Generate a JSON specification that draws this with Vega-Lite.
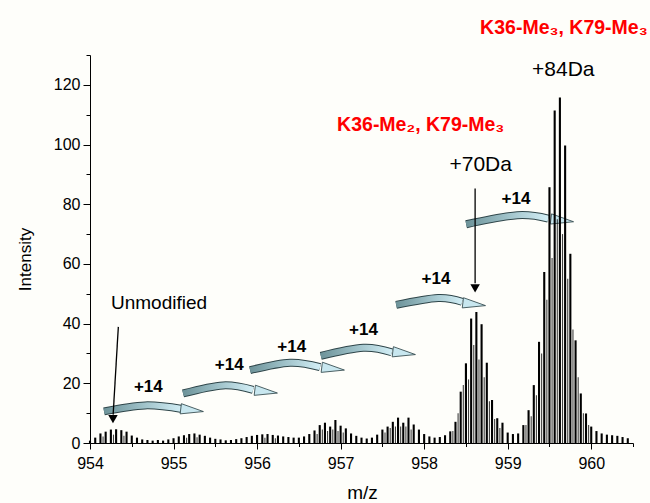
{
  "$schema": "https://vega.github.io/schema/vega-lite/v6.json",
  "width": 543,
  "height": 388,
  "autosize": "none",
  "padding": {"left": 90, "top": 55, "right": 17, "bottom": 60},
  "background": "#fefefa",
  "config": {"view": {"stroke": null}, "font": "Liberation Sans"},
  "datasets": {
    "peaks": [
      {"mz": 954.0, "i": 0.8, "s": "main"},
      {"mz": 954.0625, "i": 1.8, "s": "main"},
      {"mz": 954.125, "i": 3.2, "s": "main"},
      {"mz": 954.1875, "i": 3.8, "s": "main"},
      {"mz": 954.25, "i": 4.5, "s": "main"},
      {"mz": 954.3125, "i": 4.6, "s": "main"},
      {"mz": 954.375, "i": 4.3, "s": "main"},
      {"mz": 954.4375, "i": 3.8, "s": "main"},
      {"mz": 954.5, "i": 2.5, "s": "main"},
      {"mz": 954.5625, "i": 1.8, "s": "main"},
      {"mz": 954.625, "i": 1.2, "s": "main"},
      {"mz": 954.6875, "i": 1.0, "s": "main"},
      {"mz": 954.75, "i": 0.8, "s": "main"},
      {"mz": 954.8125, "i": 1.0, "s": "main"},
      {"mz": 954.875, "i": 0.8, "s": "main"},
      {"mz": 954.9375, "i": 1.2, "s": "main"},
      {"mz": 955.0, "i": 1.6, "s": "main"},
      {"mz": 955.0625, "i": 2.2, "s": "main"},
      {"mz": 955.125, "i": 2.6, "s": "main"},
      {"mz": 955.1875, "i": 3.0, "s": "main"},
      {"mz": 955.25, "i": 3.2, "s": "main"},
      {"mz": 955.3125, "i": 2.8, "s": "main"},
      {"mz": 955.375, "i": 2.4, "s": "main"},
      {"mz": 955.4375, "i": 1.8, "s": "main"},
      {"mz": 955.5, "i": 1.4, "s": "main"},
      {"mz": 955.5625, "i": 1.2, "s": "main"},
      {"mz": 955.625, "i": 0.9, "s": "main"},
      {"mz": 955.6875, "i": 1.0, "s": "main"},
      {"mz": 955.75, "i": 1.3, "s": "main"},
      {"mz": 955.8125, "i": 1.6, "s": "main"},
      {"mz": 955.875, "i": 2.0, "s": "main"},
      {"mz": 955.9375, "i": 2.4, "s": "main"},
      {"mz": 956.0, "i": 2.7, "s": "main"},
      {"mz": 956.0625, "i": 2.9, "s": "main"},
      {"mz": 956.125, "i": 3.0, "s": "main"},
      {"mz": 956.1875, "i": 2.7, "s": "main"},
      {"mz": 956.25, "i": 2.5, "s": "main"},
      {"mz": 956.3125, "i": 2.2, "s": "main"},
      {"mz": 956.375, "i": 2.0, "s": "main"},
      {"mz": 956.4375, "i": 1.8, "s": "main"},
      {"mz": 956.5, "i": 1.8, "s": "main"},
      {"mz": 956.5625, "i": 2.2, "s": "main"},
      {"mz": 956.625, "i": 3.0, "s": "main"},
      {"mz": 956.6875, "i": 4.2, "s": "main"},
      {"mz": 956.75, "i": 6.0, "s": "main"},
      {"mz": 956.8125, "i": 6.8, "s": "main"},
      {"mz": 956.875, "i": 5.5, "s": "main"},
      {"mz": 956.9375, "i": 7.7, "s": "main"},
      {"mz": 957.0, "i": 5.8, "s": "main"},
      {"mz": 957.0625, "i": 4.9, "s": "main"},
      {"mz": 957.125, "i": 3.2, "s": "main"},
      {"mz": 957.1875, "i": 2.4, "s": "main"},
      {"mz": 957.25, "i": 1.8, "s": "main"},
      {"mz": 957.3125, "i": 1.5, "s": "main"},
      {"mz": 957.375, "i": 1.8, "s": "main"},
      {"mz": 957.4375, "i": 2.8, "s": "main"},
      {"mz": 957.5, "i": 4.5, "s": "main"},
      {"mz": 957.5625, "i": 5.5, "s": "main"},
      {"mz": 957.625, "i": 7.1, "s": "main"},
      {"mz": 957.6875, "i": 8.5, "s": "main"},
      {"mz": 957.75, "i": 6.8, "s": "main"},
      {"mz": 957.8125, "i": 8.5, "s": "main"},
      {"mz": 957.875, "i": 6.2, "s": "main"},
      {"mz": 957.9375, "i": 4.5, "s": "main"},
      {"mz": 958.0, "i": 3.0, "s": "main"},
      {"mz": 958.0625, "i": 2.2, "s": "main"},
      {"mz": 958.125, "i": 1.8, "s": "main"},
      {"mz": 958.1875, "i": 2.0, "s": "main"},
      {"mz": 958.25, "i": 2.6, "s": "main"},
      {"mz": 958.3125, "i": 3.9, "s": "main"},
      {"mz": 958.375, "i": 7.1, "s": "main"},
      {"mz": 958.4375, "i": 17.2, "s": "main"},
      {"mz": 958.5, "i": 26.7, "s": "main"},
      {"mz": 958.5625, "i": 41.7, "s": "main"},
      {"mz": 958.625, "i": 43.9, "s": "main"},
      {"mz": 958.6875, "i": 39.8, "s": "main"},
      {"mz": 958.75, "i": 26.9, "s": "main"},
      {"mz": 958.8125, "i": 14.4, "s": "main"},
      {"mz": 958.875, "i": 8.3, "s": "main"},
      {"mz": 958.9375, "i": 6.8, "s": "main"},
      {"mz": 959.0, "i": 3.5, "s": "main"},
      {"mz": 959.0625, "i": 3.0, "s": "main"},
      {"mz": 959.125, "i": 3.2, "s": "main"},
      {"mz": 959.1875, "i": 6.0, "s": "main"},
      {"mz": 959.25, "i": 11.0, "s": "main"},
      {"mz": 959.3125, "i": 19.4, "s": "main"},
      {"mz": 959.375, "i": 33.9, "s": "main"},
      {"mz": 959.4375, "i": 57.3, "s": "main"},
      {"mz": 959.5, "i": 85.7, "s": "main"},
      {"mz": 959.5625, "i": 111.4, "s": "main"},
      {"mz": 959.625, "i": 115.8, "s": "main"},
      {"mz": 959.6875, "i": 99.7, "s": "main"},
      {"mz": 959.75, "i": 63.4, "s": "main"},
      {"mz": 959.8125, "i": 34.4, "s": "main"},
      {"mz": 959.875, "i": 16.6, "s": "main"},
      {"mz": 959.9375, "i": 9.9, "s": "main"},
      {"mz": 960.0, "i": 5.5, "s": "main"},
      {"mz": 960.0625, "i": 4.0, "s": "main"},
      {"mz": 960.125, "i": 3.2, "s": "main"},
      {"mz": 960.1875, "i": 2.8, "s": "main"},
      {"mz": 960.25, "i": 2.6, "s": "main"},
      {"mz": 960.3125, "i": 2.4, "s": "main"},
      {"mz": 960.375, "i": 2.0, "s": "main"},
      {"mz": 960.4375, "i": 1.6, "s": "main"},
      {"mz": 954.15625, "i": 2.2, "s": "minor"},
      {"mz": 954.28125, "i": 2.8, "s": "minor"},
      {"mz": 954.40625, "i": 2.4, "s": "minor"},
      {"mz": 955.15625, "i": 1.8, "s": "minor"},
      {"mz": 955.28125, "i": 1.9, "s": "minor"},
      {"mz": 956.09375, "i": 1.8, "s": "minor"},
      {"mz": 956.21875, "i": 1.6, "s": "minor"},
      {"mz": 956.71875, "i": 3.0, "s": "minor"},
      {"mz": 956.78125, "i": 4.5, "s": "minor"},
      {"mz": 956.84375, "i": 4.0, "s": "minor"},
      {"mz": 956.90625, "i": 4.5, "s": "minor"},
      {"mz": 956.96875, "i": 4.0, "s": "minor"},
      {"mz": 957.03125, "i": 3.5, "s": "minor"},
      {"mz": 957.53125, "i": 3.5, "s": "minor"},
      {"mz": 957.59375, "i": 5.0, "s": "minor"},
      {"mz": 957.65625, "i": 5.5, "s": "minor"},
      {"mz": 957.71875, "i": 5.5, "s": "minor"},
      {"mz": 957.78125, "i": 5.5, "s": "minor"},
      {"mz": 957.84375, "i": 4.5, "s": "minor"},
      {"mz": 958.34375, "i": 4.0, "s": "minor"},
      {"mz": 958.40625, "i": 10.0, "s": "minor"},
      {"mz": 958.46875, "i": 19.4, "s": "minor"},
      {"mz": 958.53125, "i": 21.3, "s": "minor"},
      {"mz": 958.59375, "i": 32.8, "s": "minor"},
      {"mz": 958.65625, "i": 28.0, "s": "minor"},
      {"mz": 958.71875, "i": 22.0, "s": "minor"},
      {"mz": 958.78125, "i": 14.0, "s": "minor"},
      {"mz": 958.84375, "i": 8.0, "s": "minor"},
      {"mz": 958.90625, "i": 5.0, "s": "minor"},
      {"mz": 959.21875, "i": 6.0, "s": "minor"},
      {"mz": 959.28125, "i": 9.0, "s": "minor"},
      {"mz": 959.34375, "i": 16.0, "s": "minor"},
      {"mz": 959.40625, "i": 30.0, "s": "minor"},
      {"mz": 959.46875, "i": 48.0, "s": "minor"},
      {"mz": 959.53125, "i": 62.0, "s": "minor"},
      {"mz": 959.59375, "i": 75.0, "s": "minor"},
      {"mz": 959.65625, "i": 70.0, "s": "minor"},
      {"mz": 959.71875, "i": 55.0, "s": "minor"},
      {"mz": 959.78125, "i": 38.0, "s": "minor"},
      {"mz": 959.84375, "i": 22.0, "s": "minor"},
      {"mz": 959.90625, "i": 10.0, "s": "minor"},
      {"mz": 959.96875, "i": 6.0, "s": "minor"}
    ],
    "arcs": [
      {"a": 1, "p": 1, "mz": 954.168, "i": 10.6},
      {"a": 1, "p": 2, "mz": 954.659, "i": 12.6},
      {"a": 1, "p": 3, "mz": 955.102, "i": 11.4},
      {"a": 2, "p": 1, "mz": 955.114, "i": 16.6},
      {"a": 2, "p": 2, "mz": 955.593, "i": 19.3},
      {"a": 2, "p": 3, "mz": 955.952, "i": 17.8},
      {"a": 3, "p": 1, "mz": 955.916, "i": 24.4},
      {"a": 3, "p": 2, "mz": 956.395, "i": 26.9},
      {"a": 3, "p": 3, "mz": 956.754, "i": 25.4},
      {"a": 4, "p": 1, "mz": 956.763, "i": 29.2},
      {"a": 4, "p": 2, "mz": 957.273, "i": 31.9},
      {"a": 4, "p": 3, "mz": 957.613, "i": 30.4},
      {"a": 5, "p": 1, "mz": 957.665, "i": 46.3},
      {"a": 5, "p": 2, "mz": 958.168, "i": 48.6},
      {"a": 5, "p": 3, "mz": 958.455, "i": 47.3},
      {"a": 6, "p": 1, "mz": 958.503, "i": 73.3},
      {"a": 6, "p": 2, "mz": 959.114, "i": 76.3},
      {"a": 6, "p": 3, "mz": 959.485, "i": 75.2}
    ],
    "heads": [
      {"a": 1, "mz": 955.222, "i": 11.0},
      {"a": 2, "mz": 956.108, "i": 17.2},
      {"a": 3, "mz": 956.91, "i": 24.9},
      {"a": 4, "mz": 957.76, "i": 30.1},
      {"a": 5, "mz": 958.599, "i": 46.5},
      {"a": 6, "mz": 959.653, "i": 74.6}
    ],
    "arrows": [
      {"a": "u", "mz": 954.339, "i": 38.9},
      {"a": "u", "mz": 954.277, "i": 9.5},
      {"a": "v", "mz": 958.61, "i": 85.3},
      {"a": "v", "mz": 958.61, "i": 53.5}
    ],
    "tips": [
      {"mz": 954.275, "i": 8.0},
      {"mz": 958.61, "i": 51.8}
    ],
    "red": [
      {"t": "K36-Me₃, K79-Me₃", "mz": 958.67, "i": 137.1},
      {"t": "K36-Me₂, K79-Me₃", "mz": 956.958, "i": 104.7}
    ],
    "big": [
      {"t": "+84Da", "mz": 959.665, "i": 123.1},
      {"t": "+70Da", "mz": 958.677, "i": 91.1}
    ],
    "unmod": [
      {"t": "Unmodified", "mz": 954.826, "i": 45.05}
    ],
    "p14": [
      {"t": "+14", "mz": 954.698, "i": 17.2},
      {"t": "+14", "mz": 955.667, "i": 24.4},
      {"t": "+14", "mz": 956.415, "i": 30.5},
      {"t": "+14", "mz": 957.273, "i": 36.1},
      {"t": "+14", "mz": 958.142, "i": 53.2},
      {"t": "+14", "mz": 959.1, "i": 80.2}
    ],
    "dummy": [{"mz": 954, "i": 0}]
  },
  "encoding": {
    "x": {"field": "mz", "type": "quantitative", "scale": {"domain": [954, 960.5], "nice": false, "zero": false}, "axis": null},
    "y": {"field": "i", "type": "quantitative", "scale": {"domain": [0, 130], "nice": false, "zero": false}, "axis": null}
  },
  "layer": [
    {
      "data": {"name": "dummy"},
      "mark": {"type": "point", "opacity": 0},
      "encoding": {
        "x": {"field": "mz", "type": "quantitative", "scale": {"domain": [954, 960.5], "nice": false, "zero": false},
          "axis": {"values": [954.5, 955.5, 956.5, 957.5, 958.5, 959.5, 960.5], "orient": "bottom", "labels": false, "domain": false, "tickSize": 3.5, "tickColor": "#000", "tickWidth": 1, "title": null, "grid": false}},
        "y": {"field": "i", "type": "quantitative", "scale": {"domain": [0, 130], "nice": false, "zero": false},
          "axis": {"values": [10, 30, 50, 70, 90, 110, 130], "orient": "left", "labels": false, "domain": false, "tickSize": 4, "tickColor": "#000", "tickWidth": 1, "title": null, "grid": false}}
      }
    },
    {
      "data": {"name": "arcs"},
      "mark": {"type": "line", "interpolate": "natural", "strokeWidth": 8, "color": "#2e4549", "strokeCap": "butt"},
      "encoding": {"detail": {"field": "a"}, "order": {"field": "p"}}
    },
    {
      "data": {"name": "arcs"},
      "mark": {"type": "line", "interpolate": "natural", "strokeWidth": 6, "strokeCap": "butt",
        "stroke": {"gradient": "linear", "x1": 0, "x2": 1, "y1": 0, "y2": 0, "stops": [{"offset": 0, "color": "#6d9399"}, {"offset": 0.5, "color": "#9fc2c9"}, {"offset": 1, "color": "#d2eef5"}]}},
      "encoding": {"detail": {"field": "a"}, "order": {"field": "p"}}
    },
    {
      "data": {"name": "heads"},
      "mark": {"type": "point", "shape": "M-1,-0.45L1,0L-1,0.45Z", "filled": true, "fill": "#c8e7ef", "stroke": "#2e4549", "strokeWidth": 0.8, "size": 520, "angle": 7, "opacity": 1}
    },
    {
      "data": {"name": "peaks"},
      "mark": {"type": "rule", "color": "#000"},
      "encoding": {
        "x": {"field": "mz", "type": "quantitative", "scale": {"domain": [954, 960.5], "nice": false, "zero": false},
          "axis": {"values": [954, 955, 956, 957, 958, 959, 960], "format": "d", "orient": "bottom", "title": "m/z", "grid": false, "domainColor": "#000", "domainWidth": 1, "tickColor": "#000", "tickSize": 6, "tickWidth": 1, "labelColor": "#000", "labelFont": "Liberation Sans", "labelFontSize": 16, "labelPadding": 6, "labelFlush": false, "labelOverlap": false, "titleFont": "Liberation Sans", "titleFontSize": 19, "titleFontWeight": "normal", "titleColor": "#000", "titleX": 272, "titleY": 49, "titleBaseline": "middle", "titleAlign": "center"}},
        "y": {"field": "i", "type": "quantitative", "scale": {"domain": [0, 130], "nice": false, "zero": false},
          "axis": {"values": [0, 20, 40, 60, 80, 100, 120], "orient": "left", "title": "Intensity", "grid": false, "domainColor": "#000", "domainWidth": 1, "tickColor": "#000", "tickSize": 7, "tickWidth": 1, "labelColor": "#000", "labelFont": "Liberation Sans", "labelFontSize": 16, "labelPadding": 3, "titleFont": "Liberation Sans", "titleFontSize": 17, "titleFontWeight": "normal", "titleColor": "#000", "titleX": -65, "titleY": 204, "titleAngle": 270, "titleBaseline": "middle", "titleAlign": "center"}},
        "y2": {"datum": 0},
        "size": {"field": "s", "type": "nominal", "scale": {"domain": ["main", "minor"], "range": [2.1, 1.1]}, "legend": null},
        "opacity": {"field": "s", "type": "nominal", "scale": {"domain": ["main", "minor"], "range": [1, 0.75]}, "legend": null}
      }
    },
    {
      "data": {"name": "arrows"},
      "mark": {"type": "line", "color": "#000", "strokeWidth": 1.3},
      "encoding": {"detail": {"field": "a"}}
    },
    {
      "data": {"name": "tips"},
      "mark": {"type": "point", "shape": "triangle-down", "filled": true, "color": "#000", "size": 90, "opacity": 1}
    },
    {
      "data": {"name": "red"},
      "mark": {"type": "text", "font": "Liberation Sans", "fontWeight": "bold", "fontSize": 19.5, "color": "#ff0000", "align": "left", "baseline": "alphabetic"},
      "encoding": {"text": {"field": "t"}}
    },
    {
      "data": {"name": "big"},
      "mark": {"type": "text", "font": "Liberation Sans", "fontSize": 21, "color": "#000", "align": "center", "baseline": "alphabetic"},
      "encoding": {"text": {"field": "t"}}
    },
    {
      "data": {"name": "unmod"},
      "mark": {"type": "text", "font": "Liberation Sans", "fontSize": 19, "color": "#000", "align": "center", "baseline": "alphabetic"},
      "encoding": {"text": {"field": "t"}}
    },
    {
      "data": {"name": "p14"},
      "mark": {"type": "text", "font": "Liberation Sans", "fontWeight": "bold", "fontSize": 17, "color": "#000", "align": "center", "baseline": "alphabetic"},
      "encoding": {"text": {"field": "t"}}
    }
  ],
  "resolve": {"axis": {"x": "independent", "y": "independent"}}
}
